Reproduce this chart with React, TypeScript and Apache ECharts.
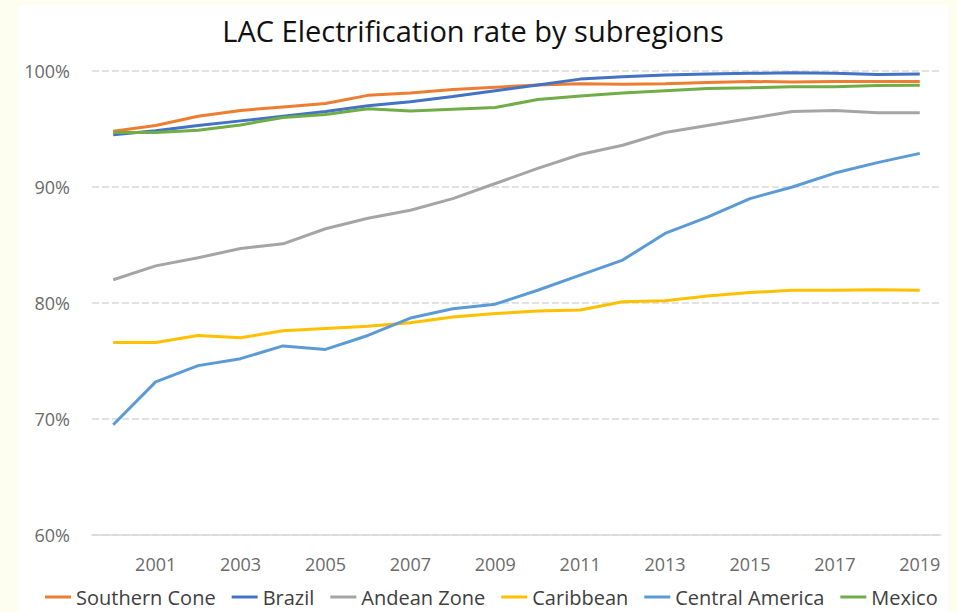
import React, { useEffect, useRef } from "react";
import * as echarts from "echarts";

const years = ["2000","2001","2002","2003","2004","2005","2006","2007","2008","2009","2010","2011","2012","2013","2014","2015","2016","2017","2018","2019"];
const yTicks = [0.6, 0.7, 0.8, 0.9, 1.0];

const southernCone = [94.8,95.3,96.1,96.6,96.9,97.2,97.9,98.1,98.4,98.6,98.8,98.9,98.85,98.9,99.0,99.1,99.05,99.1,99.1,99.1];
const brazil = [94.5,94.85,95.3,95.7,96.1,96.5,97.0,97.35,97.8,98.3,98.8,99.3,99.5,99.65,99.75,99.8,99.85,99.8,99.7,99.75];
const andeanZone = [82.0,83.2,83.9,84.7,85.1,86.4,87.3,88.0,89.0,90.3,91.6,92.8,93.6,94.7,95.3,95.9,96.5,96.6,96.4,96.4];
const caribbean = [76.6,76.6,77.2,77.0,77.6,77.8,78.0,78.3,78.8,79.1,79.3,79.4,80.1,80.2,80.6,80.9,81.1,81.1,81.15,81.1];
const centralAmerica = [69.5,73.2,74.6,75.2,76.3,76.0,77.2,78.7,79.5,79.9,81.1,82.4,83.7,86.0,87.4,89.0,90.0,91.2,92.1,92.9];
const mexico = [94.7,94.7,94.9,95.35,96.0,96.25,96.75,96.55,96.7,96.85,97.55,97.85,98.1,98.3,98.5,98.55,98.65,98.65,98.75,98.77];

const seriesDefs = [
  { name: "Southern Cone", data: southernCone, color: "#ED7D31" },
  { name: "Brazil", data: brazil, color: "#4472C4" },
  { name: "Andean Zone", data: andeanZone, color: "#A5A5A5" },
  { name: "Caribbean", data: caribbean, color: "#FFC000" },
  { name: "Central America", data: centralAmerica, color: "#5B9BD5" },
  { name: "Mexico", data: mexico, color: "#70AD47" },
];

const FONT = "'Open Sans', 'Noto Sans', sans-serif";

export default function App() {
  const ref = useRef<HTMLDivElement>(null);
  useEffect(() => {
    if (!ref.current) return;
    const chart = echarts.init(ref.current, null, { renderer: "svg" });
    chart.setOption({
      animation: false,
      backgroundColor: "#FDFDF0",
      graphic: [
        {
          type: "rect",
          z: -10,
          shape: { x: 18, y: 5, width: 930, height: 610, r: 4 },
          style: { fill: "#FFFFFF" },
        },
      ],
      title: {
        text: "LAC Electrification rate by subregions",
        left: 468,
        top: 11,
        textAlign: "center",
        textStyle: { fontFamily: FONT, fontSize: 29, fontWeight: "normal", color: "#111111" },
      },
      legend: {
        bottom: 0,
        left: 40,
        icon: "rect",
        itemWidth: 26,
        itemHeight: 3,
        itemGap: 16,
        textStyle: { fontFamily: FONT, fontSize: 20, color: "#404040" },
        data: seriesDefs.map((s) => s.name),
      },
      grid: { left: 92, right: 16, top: 71, bottom: 77 },
      xAxis: {
        type: "category",
        data: years,
        boundaryGap: true,
        axisLine: { lineStyle: { color: "#d9d9d9", width: 1.5 } },
        axisTick: { show: false },
        axisLabel: {
          interval: (i: number) => i % 2 === 1,
          margin: 20,
          fontFamily: FONT,
          fontSize: 18,
          color: "#6b6b6b",
        },
      },
      yAxis: {
        type: "value",
        min: yTicks[0],
        max: yTicks[yTicks.length - 1],
        interval: 0.1,
        axisLine: { show: false },
        axisTick: { show: false },
        axisLabel: {
          margin: 22,
          fontFamily: FONT,
          fontSize: 18,
          color: "#6b6b6b",
          formatter: (v: number) => Math.round(v * 100) + "%",
        },
        splitLine: { lineStyle: { color: "#d9d9d9", width: 1.5, type: [7, 3] } },
      },
      series: seriesDefs.map((s) => ({
        name: s.name,
        type: "line",
        data: s.data.map((v) => v / 100),
        symbol: "none",
        lineStyle: { color: s.color, width: 3 },
        itemStyle: { color: s.color },
      })),
    });
    return () => chart.dispose();
  }, []);
  return (
    <div
      ref={ref}
      style={{ position: "absolute", left: 0, top: 0, width: 957, height: 612 }}
    />
  );
}
